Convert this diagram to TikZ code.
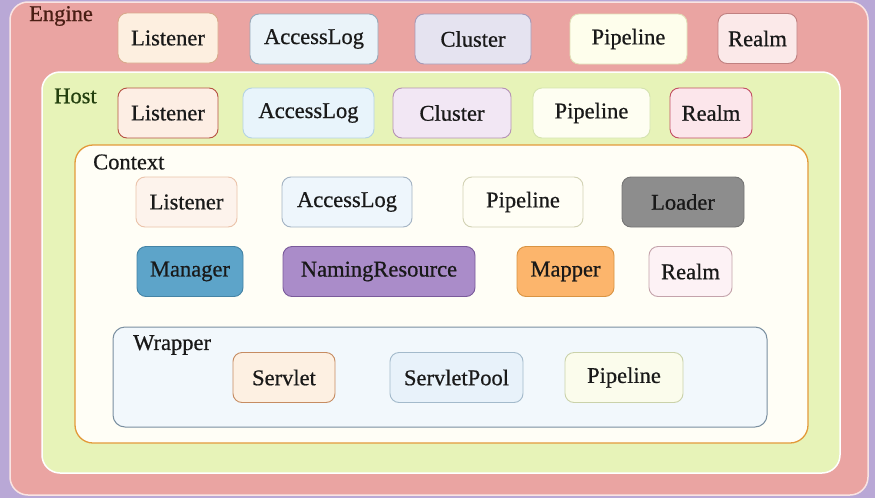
\documentclass[tikz,border=0pt]{standalone}
\usepackage{fontspec}
\setmainfont{Liberation Serif}[FakeBold=0.7]
\definecolor{bgc}{HTML}{B9A8D6}
\definecolor{engf}{HTML}{EAA4A2}
\definecolor{hostf}{HTML}{E7F3B8}
\definecolor{ctxf}{HTML}{FFFEF6}
\definecolor{ctxd}{HTML}{E39A3A}
\definecolor{wrpf}{HTML}{F2F8FC}
\definecolor{wrpd}{HTML}{7A8FA0}
\definecolor{englc}{HTML}{4A1E14}
\definecolor{hostlc}{HTML}{233F0E}
% engine row
\definecolor{f1}{HTML}{FDEFE0}\definecolor{d1}{HTML}{D9A98C}
\definecolor{f2}{HTML}{EAF3F9}\definecolor{d2}{HTML}{97A9B8}
\definecolor{f3}{HTML}{E5E3F0}\definecolor{d3}{HTML}{A59AB8}
\definecolor{f4}{HTML}{FEFEEC}\definecolor{d4}{HTML}{E0E0B8}
\definecolor{f5}{HTML}{FBE9E9}\definecolor{d5}{HTML}{C08080}
% host row
\definecolor{f6}{HTML}{FDEEE4}\definecolor{d6}{HTML}{B55242}
\definecolor{f7}{HTML}{E8F4FB}\definecolor{d7}{HTML}{B5D3E3}
\definecolor{f8}{HTML}{F2E7F4}\definecolor{d8}{HTML}{B592B5}
\definecolor{f9}{HTML}{FEFEF2}\definecolor{d9}{HTML}{D5E3B0}
\definecolor{f10}{HTML}{FCE6EB}\definecolor{d10}{HTML}{C24E62}
% context
\definecolor{f11}{HTML}{FDF3EC}\definecolor{d11}{HTML}{EBC3AA}
\definecolor{f12}{HTML}{EEF6FC}\definecolor{d12}{HTML}{A3B3C3}
\definecolor{f13}{HTML}{FFFEF5}\definecolor{d13}{HTML}{D2D2B4}
\definecolor{f14}{HTML}{8D8D8D}\definecolor{d14}{HTML}{757575}
\definecolor{f15}{HTML}{5DA4C9}\definecolor{d15}{HTML}{4584A5}
\definecolor{f16}{HTML}{AA8CC9}\definecolor{d16}{HTML}{7A5A9A}
\definecolor{f17}{HTML}{FCB56C}\definecolor{d17}{HTML}{D99443}
\definecolor{f18}{HTML}{FDF2F5}\definecolor{d18}{HTML}{C4A3AB}
% wrapper
\definecolor{f19}{HTML}{FDF0E2}\definecolor{d19}{HTML}{C68C62}
\definecolor{f20}{HTML}{E8F2FA}\definecolor{d20}{HTML}{A3BACB}
\definecolor{f21}{HTML}{FBFCEC}\definecolor{d21}{HTML}{CAD2AA}
\tikzset{
  container/.style={rounded corners=18pt, inner sep=0pt},
  item/.style={rounded corners=9pt, line width=0.9pt, minimum height=50pt, inner sep=0pt,
    font=\fontsize{22.5}{24}\selectfont, text=black!90},
  lbl/.style={anchor=west, inner sep=0pt, font=\fontsize{22.5}{24}\selectfont},
}
\begin{document}
\begin{tikzpicture}[x=1pt,y=-1pt]
\useasboundingbox[fill=bgc] (0,0) rectangle (875,498);
% containers
\node[container, fill=engf, draw=white!70!engf, line width=1.5pt, minimum width=858pt, minimum height=493pt] (engine) at (439,248.5) {};
\node[container, fill=hostf, draw=white, line width=1.5pt, minimum width=798pt, minimum height=401pt] (host) at (441,272.5) {};
\node[container, fill=ctxf, draw=ctxd, line width=1.3pt, minimum width=733pt, minimum height=298pt] (context) at (441.5,294) {};
\node[container, rounded corners=12pt, fill=wrpf, draw=wrpd, line width=1pt, minimum width=654pt, minimum height=100pt] (wrapper) at (440,377) {};
% labels
\node[lbl, text=englc] (englbl) at (29,16) {Engine};
\node[lbl, text=hostlc] (hostlbl) at (54,96) {Host};
\node[lbl, text=black!90] (ctxlbl) at (93,162) {Context};
\node[lbl, text=black!90] (wrplbl) at (133,345) {Wrapper};
% engine row
\node[item, fill=f1, draw=d1, minimum width=100pt] (eListener) at (168,38) {Listener};
\node[item, fill=f2, draw=d2, minimum width=128pt] (eAccess) at (314,39) {AccessLog};
\node[item, fill=f3, draw=d3, minimum width=116pt] (eCluster) at (473,39) {Cluster};
\node[item, fill=f4, draw=d4, minimum width=117pt] (ePipeline) at (628.5,39) {Pipeline};
\node[item, fill=f5, draw=d5, minimum width=79pt] (eRealm) at (757.5,38.5) {Realm};
% host row
\node[item, fill=f6, draw=d6, minimum width=100pt] (hListener) at (168,113) {Listener};
\node[item, fill=f7, draw=d7, minimum width=131pt] (hAccess) at (308.5,113) {AccessLog};
\node[item, fill=f8, draw=d8, minimum width=118pt] (hCluster) at (452,113) {Cluster};
\node[item, fill=f9, draw=d9, minimum width=117pt] (hPipeline) at (591.5,113) {Pipeline};
\node[item, fill=f10, draw=d10, minimum width=82pt] (hRealm) at (711,113) {Realm};
% context rows
\node[item, fill=f11, draw=d11, minimum width=101pt] (cListener) at (186.5,202) {Listener};
\node[item, fill=f12, draw=d12, minimum width=130pt] (cAccess) at (347,202) {AccessLog};
\node[item, fill=f13, draw=d13, minimum width=120pt] (cPipeline) at (523,202) {Pipeline};
\node[item, fill=f14, draw=d14, minimum width=122pt] (cLoader) at (683,202) {Loader};
\node[item, fill=f15, draw=d15, minimum width=106pt] (cManager) at (190,271.5) {Manager};
\node[item, fill=f16, draw=d16, minimum width=192pt] (cNaming) at (379,271.5) {NamingResource};
\node[item, fill=f17, draw=d17, minimum width=97pt] (cMapper) at (565.5,271.5) {Mapper};
\node[item, fill=f18, draw=d18, minimum width=83pt] (cRealm) at (690.5,271.5) {Realm};
% wrapper row
\node[item, fill=f19, draw=d19, minimum width=102pt] (wServlet) at (284,377.5) {Servlet};
\node[item, fill=f20, draw=d20, minimum width=133pt] (wPool) at (456.5,377.5) {ServletPool};
\node[item, fill=f21, draw=d21, minimum width=118pt] (wPipeline) at (624,377.5) {Pipeline};
\end{tikzpicture}
\end{document}
